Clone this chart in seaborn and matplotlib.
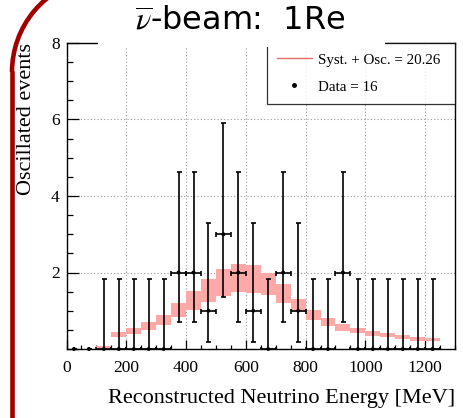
import numpy as np
import pandas as pd
import matplotlib
matplotlib.use("Agg")
import matplotlib.pyplot as plt
import seaborn as sns
from matplotlib.patches import Arc, Rectangle
from matplotlib.lines import Line2D
from matplotlib.transforms import IdentityTransform
from matplotlib.ticker import MultipleLocator

# ---------------- data ----------------
data_centers = [25, 75, 125, 175, 225, 275, 325, 375, 425, 475, 525, 575, 625,
                675, 725, 775, 825, 875, 925, 975, 1025, 1075, 1125, 1175, 1225]
data_counts = [0, 0, 0, 0, 0, 0, 0, 2, 2, 1, 3, 2, 1, 0, 2, 1, 0, 0, 2, 0, 0, 0, 0, 0, 0]
data_err_lo = [0, 0, 0, 0, 0, 0, 0, 1.29, 1.29, 0.83, 1.63, 1.29, 0.83, 0, 1.29, 0.83,
               0, 0, 1.29, 0, 0, 0, 0, 0, 0]
data_err_hi = [0, 0, 1.84, 1.84, 1.84, 1.84, 1.84, 2.64, 2.64, 2.30, 2.92, 2.64, 2.30,
               1.84, 2.64, 2.30, 1.84, 1.84, 2.64, 1.84, 1.84, 1.84, 1.84, 1.84, 1.84]
data_xerr = [0, 0] + [25] * 23

band_left = [100, 150, 200, 250, 300, 350, 400, 450, 500, 550, 600, 650, 700, 750,
             800, 850, 900, 950, 1000, 1050, 1100, 1150, 1200]
band_low = [0.00, 0.31, 0.39, 0.50, 0.64, 0.83, 1.02, 1.22, 1.39, 1.50, 1.47, 1.41,
            1.21, 0.98, 0.76, 0.60, 0.47, 0.41, 0.34, 0.31, 0.25, 0.21, 0.22]
band_high = [0.09, 0.44, 0.56, 0.70, 0.89, 1.19, 1.51, 1.82, 2.09, 2.22, 2.20, 1.99,
             1.69, 1.31, 1.02, 0.80, 0.65, 0.56, 0.48, 0.41, 0.36, 0.31, 0.28]
bin_width = 50

x_ticks = [0, 200, 400, 600, 800, 1000, 1200]
y_ticks = [0, 2, 4, 6, 8]
y_ticklabels = ["", "2", "4", "6", "8"]

title = r"$\overline{\nu}$-beam:  1Re"
xlabel = "Reconstructed Neutrino Energy [MeV]"
ylabel = "Oscillated events"
legend_syst = "Syst. + Osc. = 20.26"
legend_data = "Data = 16"

# ---------------- style ----------------
sns.set_style("ticks")
plt.rcParams["font.family"] = ["Liberation Serif", "DejaVu Serif"]
plt.rcParams["mathtext.fontset"] = "stix"
plt.rcParams["text.color"] = "black"
plt.rcParams["axes.labelcolor"] = "black"

W, H = 463, 418
fig = plt.figure(figsize=(W / 100, H / 100), dpi=100)
fig.patch.set_facecolor("white")
ax = fig.add_axes([66.5 / W, 1 - 349 / H, 388.5 / W, 306 / H])

df_band = pd.DataFrame({"left": band_left, "low": band_low, "high": band_high})
df_data = pd.DataFrame({"x": data_centers, "y": data_counts})

band_color = "#FFA8A8"
ax.bar(df_band["left"], df_band["high"] - df_band["low"], bottom=df_band["low"],
       width=bin_width, align="edge", color=band_color, edgecolor="none", zorder=2)

ax.errorbar(data_centers, data_counts, yerr=[data_err_lo, data_err_hi], xerr=data_xerr,
            fmt="none", ecolor="black", elinewidth=1.2, capsize=1.8, capthick=1.2,
            zorder=4)
sns.scatterplot(data=df_data, x="x", y="y", ax=ax, color="black", s=8,
                edgecolor="none", zorder=5, legend=False, clip_on=False)

ax.set_xlim(0, 1300)
ax.set_ylim(0, 8)
ax.set_xticks(x_ticks)
ax.set_yticks(y_ticks)
ax.set_yticklabels(y_ticklabels)
ax.xaxis.set_minor_locator(MultipleLocator(50))
ax.yaxis.set_minor_locator(MultipleLocator(0.5))
ax.tick_params(axis="both", which="both", direction="in", labelsize=12.5,
               colors="black", labelcolor="black")
ax.tick_params(axis="x", which="major", length=6.5, width=0.9, pad=8)
ax.tick_params(axis="x", which="minor", length=3.2, width=0.9)
ax.tick_params(axis="y", which="major", length=8.6, width=0.9, pad=5)
ax.tick_params(axis="y", which="minor", length=4.3, width=0.9)
ax.grid(True, which="major", color="#9a9a9a", linestyle=(0, (1, 2)), linewidth=0.8, zorder=0)
ax.set_axisbelow(True)
for s in ax.spines.values():
    s.set_color("black")
    s.set_linewidth(1.0)
ax.set_xlabel(xlabel, fontsize=16, loc="right", labelpad=9)
ax.set_ylabel(ylabel, fontsize=16, loc="top", labelpad=11)

handles = [Line2D([0], [0], color="#E86A6A", lw=1.0),
           Line2D([0], [0], marker="o", color="black", lw=0, markersize=2.5)]
leg = ax.legend(handles, [legend_syst, legend_data], loc="upper left",
                bbox_to_anchor=(0.516, 0.804, 0.484, 0.196), mode="expand",
                borderaxespad=0, fontsize=10.8, frameon=True, fancybox=False,
                edgecolor="black", handlelength=2.3, labelspacing=0.9,
                borderpad=0.68, handletextpad=0.45)
leg.get_frame().set_linewidth(0.9)
leg.set_zorder(10)

# white gap in the top frame behind the title
fig.add_artist(Rectangle((98, H - 47), 287, 8, transform=IdentityTransform(),
                         facecolor="white", edgecolor="none", zorder=10))

fig.text(240 / W, 1 - 29.5 / H, title, ha="center", va="baseline", fontsize=23,
         family=["DejaVu Sans"], color="black", zorder=11)

# slide decoration (red rounded border)
red = "#A00000"
fig.add_artist(Arc((107, H - 72), 190, 190, theta1=100, theta2=180,
                   transform=IdentityTransform(), color=red, lw=3.3, zorder=12))
fig.add_artist(Line2D([12, 12], [H - 72, -5], transform=IdentityTransform(),
                      color=red, lw=3.3, zorder=12))

fig.savefig("out.png", dpi=100)
